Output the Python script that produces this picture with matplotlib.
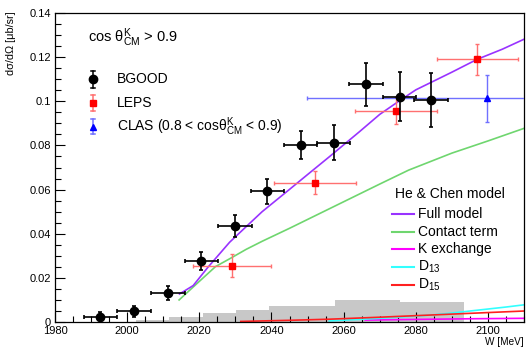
import matplotlib
matplotlib.use("Agg")
import matplotlib.pyplot as plt
import numpy as np
from matplotlib.lines import Line2D
from matplotlib.ticker import MultipleLocator, FuncFormatter

plt.rcParams['font.family'] = ['Liberation Sans', 'DejaVu Sans']
plt.rcParams['mathtext.fontset'] = 'custom'
plt.rcParams['mathtext.rm'] = 'Liberation Sans'
plt.rcParams['mathtext.it'] = 'Liberation Sans:italic'
plt.rcParams['mathtext.bf'] = 'Liberation Sans:bold'

# BGOOD data
bgood_w = [1992.5, 2001.9, 2011.3, 2020.6, 2029.9, 2038.8, 2048.1, 2057.2, 2066.2, 2075.5, 2084.2]
bgood_dw = [4.6] * 11
bgood_xs = [0.0023, 0.0050, 0.0133, 0.0276, 0.0437, 0.0592, 0.0802, 0.0812, 0.1076, 0.1020, 0.1005]
bgood_err = [0.0025, 0.0025, 0.0033, 0.0040, 0.0050, 0.0058, 0.0065, 0.0078, 0.0097, 0.0111, 0.0124]

# BGOOD systematic band
sys_edges = [2002.4, 2011.6, 2020.9, 2030.1, 2039.4, 2057.5, 2075.5, 2093.4]
sys_height = [0.0010, 0.0025, 0.0041, 0.0054, 0.0075, 0.0101, 0.0090]

# LEPS data
leps_w = [2029.1, 2052.0, 2074.5, 2097.1]
leps_dw = [10.8, 11.4, 11.3, 11.2]
leps_xs = [0.0256, 0.0631, 0.0957, 0.1189]
leps_err = [0.0051, 0.0053, 0.0060, 0.0069]

# CLAS data
clas_w = [2099.8]
clas_dw = [50.0]
clas_xs = [0.1013]
clas_err = [0.0106]

# He & Chen model curves
full_w = [2014.5, 2018.3, 2022.4, 2028.4, 2032.5, 2037.4, 2045, 2050, 2056, 2064.4,
          2070, 2075.5, 2080, 2090, 2097, 2104, 2110]
full_xs = [0.0128, 0.0166, 0.0249, 0.0362, 0.0425, 0.0500, 0.0601, 0.0668, 0.0748, 0.0862,
           0.0940, 0.1002, 0.1051, 0.1131, 0.1189, 0.1235, 0.1280]
contact_w = [2014.4, 2020, 2024.5, 2028.5, 2033, 2037.5, 2045, 2050, 2060, 2070, 2078, 2090, 2100, 2110]
contact_xs = [0.0101, 0.0185, 0.0252, 0.0288, 0.0330, 0.0367, 0.0425, 0.0465, 0.0545, 0.0625,
              0.0688, 0.0765, 0.0820, 0.0877]
kex_w = [2066, 2080, 2095, 2110]
kex_xs = [0.0010, 0.0013, 0.0016, 0.0018]
d13_w = [2056, 2070, 2080, 2085, 2090, 2095, 2100, 2105, 2110]
d13_xs = [0.0006, 0.0018, 0.0028, 0.0034, 0.0042, 0.0051, 0.0060, 0.0069, 0.0079]
d15_w = [2031.5, 2045, 2056, 2070, 2080, 2090, 2100, 2110]
d15_xs = [0.0004, 0.0009, 0.0014, 0.0023, 0.0030, 0.0037, 0.0044, 0.0051]

model_names = ['Full model', 'Contact term', 'K exchange', 'D$_{13}$', 'D$_{15}$']
model_colors = ['#9933ff', '#6fd66f', '#ff00ff', '#33ffff', '#ff2020']

W, H = 526, 348


def fx(px):
    return px / W


def fy(py):
    return 1 - py / H


fig = plt.figure(figsize=(5.26, 3.48), dpi=100)
ax = fig.add_axes([fx(55), fy(322.3), (524 - 55) / W, (322.3 - 12.7) / H])

# systematic band
ax.stairs(sys_height, sys_edges, fill=True, color='#c8c8c8', lw=0, zorder=1)

curves = [(full_w, full_xs), (contact_w, contact_xs), (kex_w, kex_xs), (d13_w, d13_xs), (d15_w, d15_xs)]
draw_order = [2, 3, 4, 1, 0]
for i in draw_order:
    w, xs = curves[i]
    ax.plot(w, xs, color=model_colors[i], lw=1.2, zorder=2)

ax.errorbar(leps_w, leps_xs, xerr=leps_dw, yerr=leps_err, fmt='s', color='#ff0000',
            ecolor='#ff7070', elinewidth=1.0, capsize=1.5, capthick=1.0, ms=4, zorder=3)
ax.errorbar(clas_w, clas_xs, xerr=clas_dw, yerr=clas_err, fmt='^', color='#0000ff',
            ecolor='#7070ff', elinewidth=1.0, capsize=1.5, capthick=1.0, ms=4, zorder=3)
ax.errorbar(bgood_w, bgood_xs, xerr=bgood_dw, yerr=bgood_err, fmt='o', color='black',
            ecolor='black', elinewidth=1.2, capsize=1.5, capthick=1.2, ms=6, zorder=4)

ax.set_xlim(1980, 2110)
ax.set_ylim(0, 0.14)
ax.xaxis.set_major_locator(MultipleLocator(20))
ax.xaxis.set_minor_locator(MultipleLocator(5))
ax.yaxis.set_major_locator(MultipleLocator(0.02))
ax.yaxis.set_minor_locator(MultipleLocator(0.005))
ax.yaxis.set_major_formatter(FuncFormatter(lambda v, p: '%g' % round(v, 4)))
ax.xaxis.set_major_formatter(FuncFormatter(lambda v, p: '%d' % v))
ax.tick_params(which='both', direction='in', top=False, right=False, labelsize=8, width=0.8)
ax.tick_params(which='major', length=7.5)
ax.tick_params(which='minor', length=4)
ax.tick_params(axis='x', pad=3)
ax.tick_params(axis='y', pad=3)
for s in ax.spines.values():
    s.set_linewidth(0.9)

fig.text(fx(11), fy(11), 'd\u03c3/d\u03a9 [\u03bcb/sr]', rotation=90, ha='center', va='top', fontsize=7.8)
fig.text(fx(524), fy(347), 'W [MeV]', ha='right', va='bottom', fontsize=7.2)

fig.text(fx(88), fy(38), 'cos \u03b8$^{\\mathrm{K}}_{\\mathrm{CM}}$ > 0.9', ha='left', va='center', fontsize=10.5)

# data legend
leg_rows = [
    ('BGOOD', 'o', 'black', 'black', 79.3, 6, 8.8),
    ('LEPS', 's', '#ff0000', '#ff7070', 103.0, 4, 7.5),
    ('CLAS (0.8 < cos\u03b8$^{\\mathrm{K}}_{\\mathrm{CM}}$ < 0.9)', '^', '#0000ff', '#7070ff', 126.5, 4, 7.5),
]
for label, mk, mc, ec, py, ms, half in leg_rows:
    x0 = fx(93)
    fig.add_artist(Line2D([x0, x0], [fy(py - half), fy(py + half)], color=ec, lw=1.1))
    for yy in (py - half, py + half):
        fig.add_artist(Line2D([fx(91), fx(95)], [fy(yy), fy(yy)], color=ec, lw=1.1))
    fig.add_artist(Line2D([x0], [fy(py)], marker=mk, ms=ms, color=mc, lw=0))
    fig.text(fx(117), fy(py), label, ha='left', va='center', fontsize=10)

# model legend
fig.text(fx(395), fy(194), 'He & Chen model', ha='left', va='center', fontsize=10)
row_y = [214.3, 231.7, 249.3, 267.0, 285.0]
for name, col, py in zip(model_names, model_colors, row_y):
    fig.add_artist(Line2D([fx(391.5), fx(413.5)], [fy(py), fy(py)], color=col, lw=1.5))
    fig.text(fx(418), fy(py), name, ha='left', va='center', fontsize=10)

fig.savefig('out.png', dpi=100)
